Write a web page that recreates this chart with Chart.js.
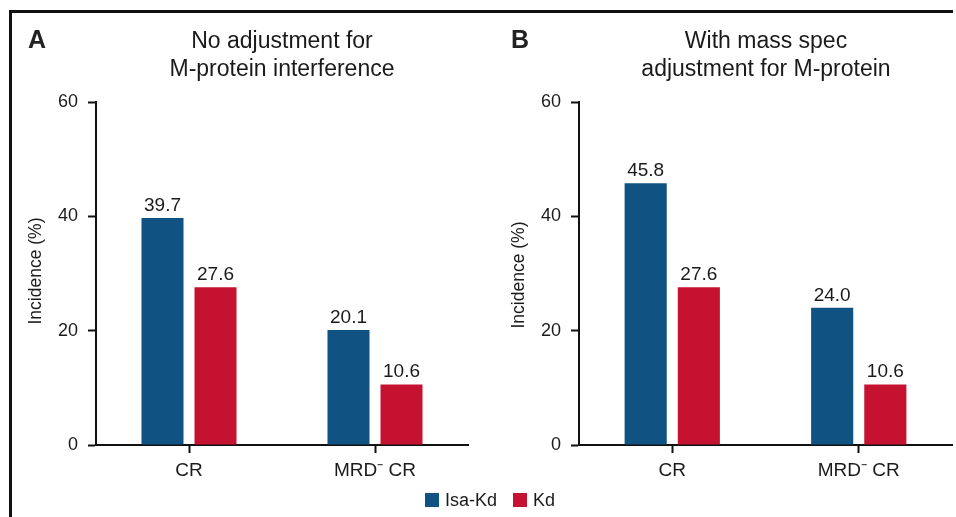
<!DOCTYPE html>
<html>
<head>
<meta charset="utf-8">
<script src="https://cdn.jsdelivr.net/npm/chart.js@4"></script>
<style>
  html, body { margin: 0; padding: 0; background: #fff; }
  body { width: 956px; height: 517px; position: relative; overflow: hidden;
         font-family: "Liberation Sans", Arial, Helvetica, sans-serif; color: #1a1a1a; }
  .frameTop { position: absolute; left: 9px; top: 10px; width: 944px; height: 2.5px; background: #111; }
  .frameLeft { position: absolute; left: 9px; top: 10px; width: 3px; height: 507px; background: #111; }
  canvas { position: absolute; top: 0; }
  .letter { position: absolute; top: 24px; font-size: 25px; font-weight: bold; line-height: 30px; color: #222; }
  .title { position: absolute; top: 26px; font-size: 23px; line-height: 28px; text-align: center;
           width: 400px; margin-left: -200px; color: #1a1a1a; }
  .ytitle { position: absolute; font-size: 17.5px; width: 200px; margin-left: -100px; text-align: center;
            line-height: 20px; margin-top: -10px; transform: rotate(-90deg); color: #1a1a1a; }
  .legend { position: absolute; top: 490px; left: 425px; font-size: 18px; line-height: 20px; white-space: nowrap; }
  .legend .sw { display: inline-block; width: 14px; height: 14px; vertical-align: -1px; margin-right: 6px; }
</style>
</head>
<body>
<div class="frameTop"></div>
<div class="frameLeft"></div>

<canvas id="cA" width="480" height="517" style="left:0px"></canvas>
<canvas id="cB" width="476" height="517" style="left:480px"></canvas>

<div class="letter" style="left:28px">A</div>
<div class="letter" style="left:511px">B</div>
<div class="title" id="tA" style="left:282px">No adjustment for<br>M-protein interference</div>
<div class="title" id="tB" style="left:766px">With mass spec<br>adjustment for M-protein</div>
<div class="ytitle" style="left:35px; top:271px">Incidence (%)</div>
<div class="ytitle" style="left:518px; top:275px">Incidence (%)</div>

<div class="legend"><span class="sw" style="background:#105282"></span>Isa-Kd<span class="sw" style="background:#C51230; margin-left:16px"></span>Kd</div>

<script>
// ---- data ----
const categories = ["CR", "MRD\u207B CR"];
const seriesNames = ["Isa-Kd", "Kd"];
const panelA_IsaKd = [39.7, 20.1];
const panelA_Kd = [27.6, 10.6];
const panelB_IsaKd = [45.8, 24.0];
const panelB_Kd = [27.6, 10.6];
const yTicks = [0, 20, 40, 60];
const colors = ["#105282", "#C51230"];

const FONT = '"Liberation Sans", Arial, Helvetica, sans-serif';

const valueLabels = {
  id: 'valueLabels',
  afterDatasetsDraw(chart) {
    const ctx = chart.ctx;
    ctx.save();
    ctx.font = '19px ' + FONT;
    ctx.fillStyle = '#1a1a1a';
    ctx.textAlign = 'center';
    ctx.textBaseline = 'alphabetic';
    chart.data.datasets.forEach((ds, i) => {
      const meta = chart.getDatasetMeta(i);
      meta.data.forEach((bar, j) => {
        ctx.fillText(ds.data[j].toFixed(1), bar.x, bar.y - 7);
      });
    });
    ctx.restore();
  }
};

function makeChart(id, isa, kd, yWidth, padRight) {
  return new Chart(document.getElementById(id), {
    type: 'bar',
    data: {
      labels: categories,
      datasets: [
        { label: seriesNames[0], data: isa, backgroundColor: colors[0], borderWidth: 0 },
        { label: seriesNames[1], data: kd, backgroundColor: colors[1], borderWidth: 0 }
      ]
    },
    options: {
      responsive: false,
      devicePixelRatio: 1,
      animation: false,
      events: [],
      categoryPercentage: 0.57,
      barPercentage: 0.7925,
      layout: { padding: { left: 0, right: padRight, top: 102, bottom: 0 } },
      plugins: { legend: { display: false }, tooltip: { enabled: false }, title: { display: false } },
      scales: {
        x: {
          offset: true,
          grid: { display: true, offset: false, drawOnChartArea: false, drawTicks: true,
                  tickLength: 8, tickWidth: 2, tickColor: '#111' },
          border: { display: true, color: '#111', width: 2 },
          ticks: { color: '#1a1a1a', font: { family: FONT, size: 19 }, padding: 6, maxRotation: 0 },
          afterFit(scale) { scale.height = 72; }
        },
        y: {
          min: 0, max: 60,
          afterBuildTicks(scale) { scale.ticks = yTicks.map(v => ({ value: v })); },
          grid: { display: true, drawOnChartArea: false, drawTicks: true,
                  tickLength: 8, tickWidth: 2, tickColor: '#111' },
          border: { display: true, color: '#111', width: 2 },
          ticks: { color: '#1a1a1a', font: { family: FONT, size: 18 }, padding: 10 },
          afterFit(scale) { scale.width = yWidth; }
        }
      }
    },
    plugins: [valueLabels]
  });
}

makeChart('cA', panelA_IsaKd, panelA_Kd, 96, 12);
makeChart('cB', panelB_IsaKd, panelB_Kd, 99, 4);
</script>
</body>
</html>
